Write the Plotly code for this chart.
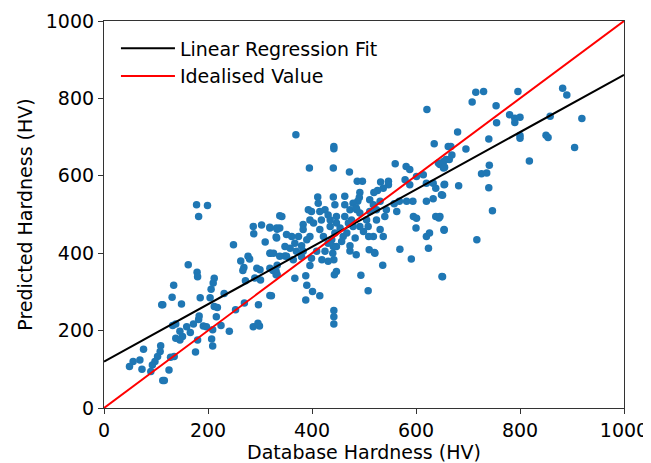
import plotly.graph_objects as go

# Scatter data (Database Hardness, Predicted Hardness)
db_hardness = [
    178, 199, 182, 249, 162, 179, 180, 134, 131, 111, 113, 149, 185, 204, 212, 210, 206, 231, 212, 218,
    216, 183, 182, 132, 138, 159, 172, 191, 197, 146, 166, 151, 138, 146, 180, 209, 207, 209, 225, 241,
    253, 270, 176, 109, 108, 103, 98, 93, 76, 69, 56, 49, 73, 90, 125, 128, 135, 113, 116, 287,
    288, 303, 319, 333, 338, 310, 331, 320, 263, 277, 280, 269, 267, 272, 294, 300, 290, 301, 325, 333,
    331, 319, 297, 287, 299, 296,
    369, 442, 442, 395, 441, 472, 487, 497, 560, 581, 588, 635, 662, 532, 547, 547, 537, 526, 519, 492,
    491, 488, 579, 588, 601, 614, 620, 633, 638, 643, 653, 658, 654, 649, 633, 620, 594, 582, 568, 558,
    563, 543, 540, 524, 511, 505, 508, 518, 509, 537, 531, 595, 601, 600, 638, 644, 654, 620, 626, 624,
    591, 569, 536, 508, 494, 650, 521, 510, 485, 473, 473, 442, 440, 447, 443, 442, 442, 442, 415, 401,
    388, 390, 388, 367, 396, 364, 348, 333, 331, 322, 319, 319,
    411, 441, 444, 463, 473, 486, 492, 425, 431, 415, 399, 393, 396, 403, 383, 342, 338, 332, 319, 332,
    351, 361, 348, 367, 380, 396, 415, 422, 435, 447, 454, 460, 476, 479, 492, 499, 483, 431, 441, 425,
    409, 383, 370, 351, 338, 326, 447, 463, 435, 467, 457, 447, 463, 479, 485, 518, 531, 511, 524, 470,
    444, 438, 418, 412, 383, 374, 390, 358, 380, 399, 419, 431, 520,
    715, 730, 708, 796, 882, 890, 754, 780, 790, 800, 755, 790, 858, 919, 680, 740, 800, 800, 850, 854,
    905, 667, 696, 669, 664, 653, 646, 655, 818, 741, 726, 736, 655, 682, 651, 740, 747, 646, 654, 717,
    651, 621,
]
pred_hardness = [
    525, 523, 495, 422, 370, 351, 339, 317, 286, 267, 267, 269, 285, 285, 335, 323, 307, 296, 262, 260,
    236, 238, 229, 213, 217, 210, 217, 212, 210, 198, 195, 185, 180, 176, 176, 202, 178, 160, 213, 198,
    254, 271, 145, 161, 146, 133, 120, 111, 152, 124, 120, 107, 100, 94, 98, 131, 133, 71, 71, 469,
    450, 473, 467, 462, 497, 429, 442, 400, 380, 392, 385, 363, 355, 329, 361, 357, 336, 331, 355, 369,
    344, 291, 267, 210, 212, 219,
    706, 676, 670, 620, 620, 610, 586, 586, 631, 624, 616, 683, 676, 584, 586, 577, 568, 562, 557, 557,
    544, 534, 590, 577, 598, 603, 581, 581, 568, 633, 620, 642, 577, 551, 541, 534, 534, 534, 534, 528,
    508, 512, 495, 512, 508, 486, 469, 443, 443, 443, 461, 495, 490, 465, 495, 491, 461, 443, 452, 413,
    385, 410, 369, 303, 343, 340, 400, 409, 396, 406, 419, 383, 400, 353, 344, 252, 236, 217, 290, 301,
    279, 317, 342, 335, 368, 383, 393, 344, 353, 290, 400, 361,
    545, 545, 525, 525, 512, 512, 504, 512, 499, 508, 508, 512, 486, 478, 474, 495, 465, 465, 465, 439,
    448, 443, 417, 426, 419, 443, 461, 443, 469, 478, 465, 443, 486, 469, 469, 456, 439, 426, 417, 405,
    405, 405, 405, 392, 392, 400, 495, 495, 486, 452, 430, 417, 547, 529, 517, 525, 534, 538, 486, 478,
    452, 435, 486, 529, 461, 443, 435, 413, 391, 387, 383, 379, 402,
    816, 818, 791, 818, 826, 809, 781, 758, 749, 751, 737, 738, 754, 748, 713, 695, 704, 697, 705, 699,
    673, 676, 669, 654, 642, 637, 629, 622, 638, 627, 605, 607, 578, 574, 550, 569, 510, 495, 459, 435,
    339, 771,
]

# Fitted line and ideal line endpoints
fit_x = [0, 1000]
fit_y = [120, 861]
ideal_x = [0, 1000]
ideal_y = [0, 1000]

tick_vals = [0, 200, 400, 600, 800, 1000]
tick_text = ["0", "200", "400", "600", "800", "1000"]

FONT = "DejaVu Sans"
FS = 19

fig = go.Figure()
fig.add_trace(go.Scatter(
    x=db_hardness, y=pred_hardness, mode="markers",
    marker=dict(color="#1f77b4", size=7.5, line=dict(width=0)),
    showlegend=False, cliponaxis=False,
))
fig.add_trace(go.Scatter(
    x=fit_x, y=fit_y, mode="lines", name="Linear Regression Fit",
    line=dict(color="black", width=2),
))
fig.add_trace(go.Scatter(
    x=ideal_x, y=ideal_y, mode="lines", name="Idealised Value",
    line=dict(color="red", width=2),
))

axis_common = dict(
    range=[0, 1000], tickvals=tick_vals, ticktext=tick_text,
    showgrid=False, zeroline=False, showline=True, mirror=True,
    linecolor="#333333", linewidth=1.2, ticks="outside", ticklen=5,
    tickcolor="#333333", tickfont=dict(family=FONT, size=FS, color="black"),
    automargin=False,
)

fig.update_layout(
    width=643, height=455,
    margin=dict(l=96, r=27, t=13, b=55),
    plot_bgcolor="white", paper_bgcolor="white",
    font=dict(family=FONT, size=FS, color="black"),
    xaxis=dict(**axis_common, title=dict(text="Database Hardness (HV)", font=dict(family=FONT, size=FS), standoff=4)),
    yaxis=dict(**axis_common, title=dict(text="Predicted Hardness (HV)", font=dict(family=FONT, size=FS), standoff=8)),
    legend=dict(x=0.023, y=0.978, xanchor="left", yanchor="top",
                bgcolor="rgba(255,255,255,0)", font=dict(family=FONT, size=FS),
                tracegroupgap=0, itemwidth=54),
)

fig.write_html("out.html")
